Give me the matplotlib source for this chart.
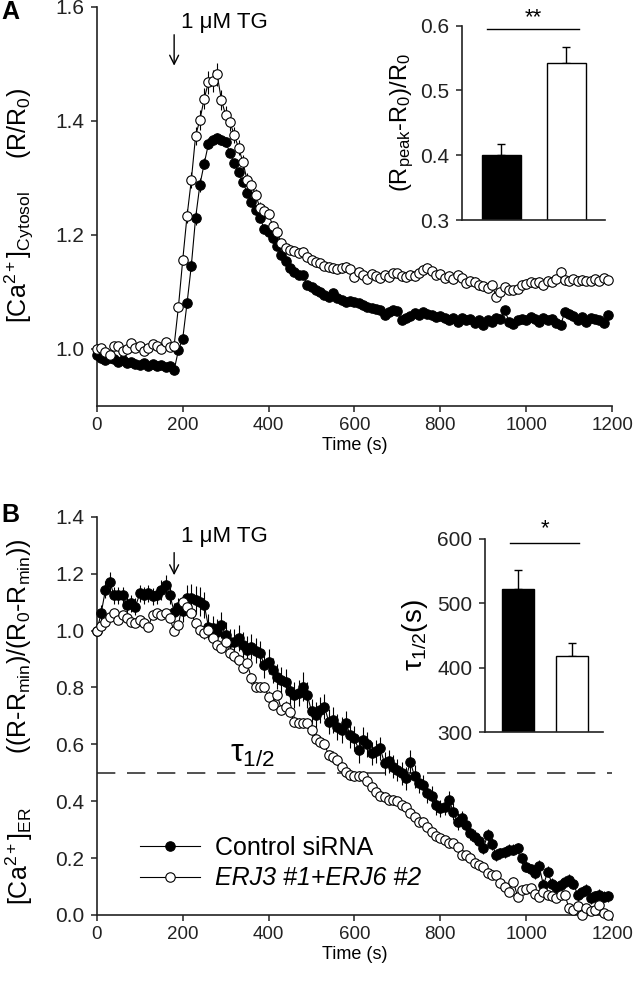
import numpy as np
import matplotlib.pyplot as plt

plt.rcParams['font.family'] = ['Liberation Sans', 'DejaVu Sans']
plt.rcParams['mathtext.fontset'] = 'custom'
plt.rcParams['mathtext.rm'] = 'Liberation Sans'
plt.rcParams['mathtext.it'] = 'Liberation Sans:italic'
plt.rcParams['mathtext.bf'] = 'Liberation Sans:bold'

# time grid: one reading every 10 s
time_s = np.arange(0, 1200, 10)

# panel A, cytosolic Ca2+ (R/R0)
cyto_ctrl = [0.990, 0.985, 0.980, 0.985, 0.982, 0.978, 0.980, 0.976, 0.978, 0.974,
             0.972, 0.975, 0.970, 0.974, 0.970, 0.972, 0.968, 0.970, 0.963, 0.998,
             1.018, 1.080, 1.146, 1.230, 1.288, 1.325, 1.360, 1.367, 1.370, 1.367,
             1.363, 1.344, 1.326, 1.310, 1.293, 1.274, 1.258, 1.244, 1.230, 1.210,
             1.205, 1.195, 1.180, 1.165, 1.155, 1.142, 1.135, 1.130, 1.130, 1.112,
             1.108, 1.104, 1.100, 1.095, 1.091, 1.098, 1.090, 1.086, 1.082, 1.084,
             1.082, 1.080, 1.077, 1.074, 1.072, 1.070, 1.068, 1.060, 1.065, 1.068,
             1.066, 1.051, 1.055, 1.058, 1.063, 1.060, 1.065, 1.062, 1.060, 1.056,
             1.058, 1.055, 1.051, 1.054, 1.048, 1.055, 1.050, 1.052, 1.046, 1.050,
             1.042, 1.050, 1.048, 1.055, 1.052, 1.068, 1.048, 1.044, 1.050, 1.052,
             1.050, 1.056, 1.052, 1.048, 1.055, 1.050, 1.052, 1.046, 1.042, 1.065,
             1.062, 1.058, 1.050, 1.056, 1.048, 1.055, 1.052, 1.050, 1.045, 1.060]
cyto_kd = [1.000, 1.002, 0.995, 0.990, 1.005, 1.006, 0.996, 1.000, 1.010, 1.002,
           1.006, 0.996, 1.002, 1.008, 1.005, 1.000, 1.012, 1.004, 1.006, 1.074,
           1.156, 1.233, 1.296, 1.374, 1.402, 1.439, 1.468, 1.470, 1.482, 1.437,
           1.410, 1.398, 1.375, 1.353, 1.328, 1.296, 1.288, 1.270, 1.247, 1.242,
           1.237, 1.215, 1.205, 1.185, 1.177, 1.174, 1.172, 1.168, 1.170, 1.162,
           1.156, 1.152, 1.150, 1.146, 1.144, 1.142, 1.140, 1.142, 1.144, 1.140,
           1.126, 1.135, 1.130, 1.122, 1.132, 1.128, 1.124, 1.130, 1.126, 1.133,
           1.133, 1.128, 1.126, 1.130, 1.128, 1.133, 1.139, 1.142, 1.136, 1.130,
           1.132, 1.124, 1.128, 1.122, 1.130, 1.125, 1.115, 1.120, 1.118, 1.112,
           1.110, 1.107, 1.112, 1.092, 1.100, 1.108, 1.104, 1.103, 1.106, 1.112,
           1.114, 1.117, 1.115, 1.118, 1.112, 1.120, 1.118, 1.122, 1.135, 1.121,
           1.120, 1.122, 1.120, 1.121, 1.120, 1.120, 1.122, 1.120, 1.124, 1.121]
cyto_ctrl_err = [0.004, 0.004, 0.004, 0.004, 0.004, 0.004, 0.004, 0.004, 0.004, 0.004,
                 0.004, 0.004, 0.004, 0.004, 0.004, 0.004, 0.004, 0.004, 0.004, 0.005,
                 0.006, 0.008, 0.010, 0.012, 0.012, 0.010, 0.010, 0.009, 0.009, 0.009,
                 0.009, 0.008, 0.008, 0.008, 0.007, 0.007, 0.007, 0.007, 0.006, 0.006,
                 0.006, 0.006, 0.005, 0.005, 0.005, 0.005, 0.005, 0.005, 0.005, 0.005,
                 0.005, 0.005, 0.005, 0.005, 0.005, 0.005, 0.005, 0.005, 0.005, 0.005,
                 0.005, 0.005, 0.005, 0.005, 0.005, 0.005, 0.005, 0.005, 0.005, 0.005,
                 0.005, 0.005, 0.005, 0.005, 0.005, 0.005, 0.005, 0.005, 0.005, 0.005,
                 0.005, 0.005, 0.005, 0.005, 0.005, 0.005, 0.005, 0.005, 0.005, 0.005,
                 0.005, 0.005, 0.005, 0.005, 0.005, 0.005, 0.005, 0.005, 0.005, 0.005,
                 0.005, 0.005, 0.005, 0.005, 0.005, 0.005, 0.005, 0.005, 0.005, 0.005,
                 0.005, 0.005, 0.005, 0.005, 0.005, 0.005, 0.005, 0.005, 0.005, 0.005]
cyto_kd_err = [0.005, 0.005, 0.005, 0.005, 0.005, 0.005, 0.005, 0.005, 0.005, 0.005,
               0.005, 0.005, 0.005, 0.005, 0.005, 0.005, 0.005, 0.005, 0.005, 0.006,
               0.008, 0.012, 0.014, 0.016, 0.018, 0.018, 0.020, 0.020, 0.020, 0.018,
               0.016, 0.015, 0.014, 0.013, 0.012, 0.012, 0.011, 0.010, 0.010, 0.010,
               0.009, 0.009, 0.009, 0.008, 0.008, 0.008, 0.008, 0.008, 0.008, 0.008,
               0.008, 0.008, 0.008, 0.008, 0.008, 0.008, 0.008, 0.008, 0.008, 0.008,
               0.008, 0.008, 0.008, 0.008, 0.008, 0.008, 0.008, 0.008, 0.008, 0.008,
               0.008, 0.008, 0.008, 0.008, 0.008, 0.008, 0.008, 0.008, 0.008, 0.008,
               0.008, 0.008, 0.008, 0.008, 0.008, 0.008, 0.008, 0.008, 0.008, 0.008,
               0.008, 0.008, 0.008, 0.008, 0.008, 0.008, 0.008, 0.008, 0.008, 0.008,
               0.008, 0.008, 0.008, 0.008, 0.008, 0.008, 0.008, 0.008, 0.008, 0.008,
               0.008, 0.008, 0.008, 0.008, 0.008, 0.008, 0.008, 0.008, 0.008, 0.008]

# panel B, ER Ca2+ (normalised)
er_ctrl = [1.000, 1.061, 1.143, 1.172, 1.125, 1.125, 1.125, 1.090, 1.096, 1.084,
           1.131, 1.125, 1.131, 1.120, 1.125, 1.143, 1.161, 1.125, 1.067, 1.084,
           1.070, 1.114, 1.114, 1.108, 1.102, 1.090, 1.014, 1.008, 0.996, 1.020,
           0.984, 0.961, 0.961, 0.973, 0.950, 0.932, 0.944, 0.930, 0.920, 0.879,
           0.891, 0.860, 0.838, 0.826, 0.820, 0.786, 0.774, 0.780, 0.803, 0.774,
           0.716, 0.704, 0.720, 0.733, 0.680, 0.686, 0.660, 0.650, 0.674, 0.633,
           0.621, 0.580, 0.615, 0.600, 0.569, 0.575, 0.586, 0.533, 0.540, 0.522,
           0.510, 0.498, 0.480, 0.539, 0.487, 0.463, 0.457, 0.428, 0.420, 0.387,
           0.375, 0.380, 0.405, 0.363, 0.328, 0.340, 0.316, 0.287, 0.275, 0.260,
           0.234, 0.281, 0.250, 0.211, 0.217, 0.220, 0.229, 0.230, 0.234, 0.199,
           0.170, 0.160, 0.146, 0.172, 0.105, 0.152, 0.110, 0.099, 0.105, 0.117,
           0.123, 0.110, 0.070, 0.080, 0.088, 0.059, 0.065, 0.070, 0.064, 0.065]
er_kd = [1.000, 1.015, 1.032, 1.049, 1.061, 1.038, 1.055, 1.044, 1.032, 1.026,
         1.038, 1.026, 1.014, 1.055, 1.061, 1.055, 1.061, 1.044, 0.997, 1.020,
         1.102, 1.084, 1.061, 1.026, 1.002, 0.990, 1.002, 0.973, 0.949, 0.938,
         0.961, 0.920, 0.909, 0.896, 0.868, 0.885, 0.832, 0.803, 0.803, 0.803,
         0.768, 0.739, 0.774, 0.721, 0.733, 0.715, 0.680, 0.674, 0.674, 0.676,
         0.651, 0.620, 0.610, 0.600, 0.563, 0.557, 0.545, 0.520, 0.504, 0.493,
         0.490, 0.488, 0.488, 0.470, 0.451, 0.434, 0.420, 0.416, 0.405, 0.405,
         0.400, 0.387, 0.381, 0.360, 0.346, 0.328, 0.328, 0.310, 0.293, 0.276,
         0.270, 0.264, 0.252, 0.252, 0.240, 0.211, 0.211, 0.200, 0.182, 0.176,
         0.170, 0.146, 0.141, 0.141, 0.111, 0.100, 0.082, 0.117, 0.064, 0.088,
         0.090, 0.094, 0.075, 0.064, 0.082, 0.070, 0.065, 0.059, 0.070, 0.070,
         0.023, 0.018, 0.030, 0.000, 0.023, 0.015, 0.018, 0.035, 0.006, 0.000]
er_ctrl_err = [0.000, 0.030, 0.030, 0.035, 0.030, 0.030, 0.030, 0.030, 0.030, 0.030,
               0.030, 0.030, 0.030, 0.030, 0.030, 0.035, 0.035, 0.030, 0.030, 0.030,
               0.040, 0.045, 0.050, 0.050, 0.050, 0.045, 0.045, 0.045, 0.045, 0.045,
               0.045, 0.045, 0.045, 0.045, 0.045, 0.050, 0.045, 0.045, 0.045, 0.045,
               0.045, 0.045, 0.045, 0.045, 0.045, 0.045, 0.045, 0.045, 0.050, 0.045,
               0.045, 0.045, 0.045, 0.045, 0.045, 0.045, 0.045, 0.045, 0.045, 0.045,
               0.045, 0.045, 0.045, 0.045, 0.040, 0.040, 0.040, 0.040, 0.040, 0.040,
               0.040, 0.040, 0.040, 0.040, 0.040, 0.035, 0.035, 0.035, 0.035, 0.035,
               0.030, 0.030, 0.030, 0.030, 0.030, 0.025, 0.025, 0.025, 0.025, 0.025,
               0.020, 0.020, 0.020, 0.020, 0.020, 0.020, 0.020, 0.020, 0.020, 0.020,
               0.020, 0.020, 0.020, 0.020, 0.020, 0.020, 0.020, 0.020, 0.020, 0.020,
               0.020, 0.020, 0.020, 0.020, 0.020, 0.020, 0.020, 0.020, 0.020, 0.020]
er_kd_err = [0.000, 0.010, 0.010, 0.012, 0.012, 0.012, 0.012, 0.012, 0.012, 0.012,
             0.012, 0.012, 0.012, 0.012, 0.012, 0.012, 0.012, 0.012, 0.012, 0.012,
             0.015, 0.018, 0.018, 0.018, 0.018, 0.018, 0.018, 0.018, 0.018, 0.018,
             0.018, 0.018, 0.018, 0.018, 0.018, 0.018, 0.018, 0.018, 0.018, 0.018,
             0.018, 0.018, 0.018, 0.018, 0.018, 0.018, 0.018, 0.018, 0.018, 0.018,
             0.018, 0.018, 0.018, 0.018, 0.018, 0.018, 0.018, 0.018, 0.018, 0.018,
             0.018, 0.018, 0.018, 0.018, 0.018, 0.018, 0.018, 0.018, 0.018, 0.018,
             0.015, 0.015, 0.015, 0.015, 0.015, 0.015, 0.015, 0.015, 0.015, 0.015,
             0.015, 0.015, 0.015, 0.015, 0.015, 0.015, 0.015, 0.015, 0.015, 0.015,
             0.015, 0.015, 0.015, 0.015, 0.015, 0.015, 0.015, 0.015, 0.015, 0.015,
             0.015, 0.015, 0.015, 0.015, 0.015, 0.015, 0.015, 0.015, 0.015, 0.015,
             0.015, 0.015, 0.015, 0.015, 0.015, 0.015, 0.015, 0.015, 0.015, 0.015]

# insets: bar means and SEM (control, knockdown)
peak_mean = [0.401, 0.542]
peak_sem = [0.016, 0.025]
tau_mean = [522, 418]
tau_sem = [29, 20]

tg_time = 180
half_level = 0.5
labels = ['Control siRNA', 'ERJ3 #1+ERJ6 #2']

fig = plt.figure(figsize=(6.33, 9.83), dpi=100)


def style(ax, size=15):
    for s in ['top', 'right']:
        ax.spines[s].set_visible(False)
    for s in ['left', 'bottom']:
        ax.spines[s].set_linewidth(1.2)
        ax.spines[s].set_color('#222222')
    ax.tick_params(direction='out', length=4, width=1.1, labelsize=size, colors='#222222')
    ax.tick_params(axis='y', pad=5)
    ax.tick_params(axis='x', pad=4, labelsize=13.5)


def traces(ax, y1, e1, y2, e2):
    ax.errorbar(time_s, y1, yerr=e1, fmt='none', ecolor='black', elinewidth=0.8, zorder=2, clip_on=False)
    ax.plot(time_s, y1, '-o', color='black', lw=0.8, ms=6.8, mfc='black', mec='black',
            mew=0.8, zorder=3, clip_on=False, label=labels[0])
    ax.errorbar(time_s, y2, yerr=e2, fmt='none', ecolor='black', elinewidth=0.8, zorder=4, clip_on=False)
    ax.plot(time_s, y2, '-o', color='black', lw=0.8, ms=6.8, mfc='white', mec='black',
            mew=0.8, zorder=5, clip_on=False, label=labels[1])


def bars(ax, means, sems):
    pos = [1, 2]
    ax.bar(pos, means, width=0.6, color=['black', 'white'], edgecolor='black', linewidth=1.0, zorder=2)
    ax.errorbar(pos, means, yerr=[[0, 0], sems], fmt='none', ecolor='black', elinewidth=1.0,
                capsize=3, capthick=1.0, zorder=1)
    ax.set_xticks([])


def tg_arrow(ax, y_tip, y_tail, y_text):
    ax.annotate('', xy=(tg_time, y_tip), xytext=(tg_time, y_tail),
                arrowprops=dict(arrowstyle='->', lw=1.0, color='black', mutation_scale=16))
    ax.text(tg_time + 15, y_text, '1 μM TG', fontsize=16, va='center', ha='left')


# ---- panel A ----
axA = fig.add_axes([0.153, 0.587, 0.814, 0.406])
traces(axA, cyto_ctrl, cyto_ctrl_err, cyto_kd, cyto_kd_err)
style(axA)
axA.set_xlim(0, 1200)
axA.set_ylim(0.9, 1.6)
axA.set_xticks(range(0, 1201, 200))
axA.set_yticks([1.0, 1.2, 1.4, 1.6])
axA.set_yticklabels(['1.0', '1.2', '1.4', '1.6'])
axA.set_xlabel('Time (s)', fontsize=13, labelpad=2)
tg_arrow(axA, 1.492, 1.556, 1.572)

fig.text(0.030, 0.739, r'[Ca$^{\mathregular{2+}}$]$_{\mathregular{Cytosol}}$', rotation=90,
         fontsize=18, ha='center', va='center')
fig.text(0.030, 0.874, r'(R/R$_{\mathregular{0}}$)', rotation=90,
         fontsize=18, ha='center', va='center')
fig.text(0.016, 0.988, 'A', fontsize=18, fontweight='bold', ha='center', va='center')

# inset A
axAi = fig.add_axes([0.730, 0.776, 0.226, 0.198])
bars(axAi, peak_mean, peak_sem)
style(axAi)
axAi.set_xlim(0.4, 2.6)
axAi.set_ylim(0.3, 0.6)
axAi.set_yticks([0.3, 0.4, 0.5, 0.6])
axAi.set_yticklabels(['0.3', '0.4', '0.5', '0.6'])
axAi.plot([0.78, 2.2], [0.594, 0.594], color='black', lw=1.0, clip_on=False)
axAi.text(1.5, 0.612, '**', fontsize=16, ha='center', va='center')
axAi.set_ylabel(r'(R$_{\mathregular{peak}}$-R$_{\mathregular{0}}$)/R$_{\mathregular{0}}$',
                fontsize=17, labelpad=3)

# ---- panel B ----
axB = fig.add_axes([0.153, 0.0692, 0.814, 0.405])
axB.axhline(half_level, color='#333333', lw=1.2, dashes=(11, 7), zorder=1)
traces(axB, er_ctrl, er_ctrl_err, er_kd, er_kd_err)
style(axB)
axB.set_xlim(0, 1200)
axB.set_ylim(0, 1.4)
axB.set_xticks(range(0, 1201, 200))
axB.set_yticks([0.0, 0.2, 0.4, 0.6, 0.8, 1.0, 1.2, 1.4])
axB.set_yticklabels(['0.0', '0.2', '0.4', '0.6', '0.8', '1.0', '1.2', '1.4'])
axB.set_xlabel('Time (s)', fontsize=13, labelpad=2)
tg_arrow(axB, 1.185, 1.284, 1.33)
axB.text(310, 0.515, r'τ$_{\mathregular{1/2}}$', fontsize=23, ha='left', va='bottom')
leg = axB.legend(loc='center left', bbox_to_anchor=(0.083, 0.13), frameon=False,
                 fontsize=18, handlelength=2.4, handletextpad=0.6, labelspacing=0.25,
                 borderpad=0, borderaxespad=0, numpoints=1)
leg.get_texts()[1].set_fontstyle('italic')

fig.text(0.030, 0.129, r'[Ca$^{\mathregular{2+}}$]$_{\mathregular{ER}}$', rotation=90,
         fontsize=18, ha='center', va='center')
fig.text(0.030, 0.342,
         r'((R-R$_{\mathregular{min}}$)/(R$_{\mathregular{0}}$-R$_{\mathregular{min}}$))',
         rotation=90, fontsize=18, ha='center', va='center')
fig.text(0.017, 0.476, 'B', fontsize=18, fontweight='bold', ha='center', va='center')

# inset B
axBi = fig.add_axes([0.766, 0.255, 0.186, 0.197])
bars(axBi, tau_mean, tau_sem)
style(axBi)
axBi.set_xlim(0.39, 2.57)
axBi.set_ylim(300, 600)
axBi.set_yticks([300, 400, 500, 600])
axBi.plot([0.85, 2.13], [594, 594], color='black', lw=1.0, clip_on=False)
axBi.text(1.5, 616, '*', fontsize=16, ha='center', va='center')
axBi.set_ylabel(r'τ$_{\mathregular{1/2}}$(s)', fontsize=20, labelpad=5)

fig.savefig('out.png', dpi=100)
